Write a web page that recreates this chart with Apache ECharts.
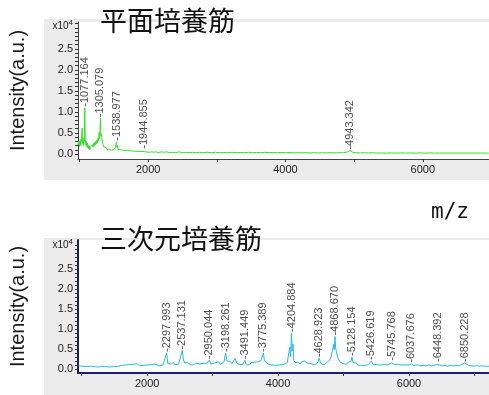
<!DOCTYPE html>
<html>
<head>
<meta charset="utf-8">
<script src="https://cdn.jsdelivr.net/npm/echarts@6/dist/echarts.min.js"></script>
<style>
  html, body { margin: 0; padding: 0; background: #fff; }
  #wrap { position: relative; width: 489px; height: 395px; overflow: hidden; }
  .panel { position: absolute; background: #ebebeb; }
  #chart { position: absolute; left: 0; top: 0; width: 489px; height: 395px; }
</style>
</head>
<body>
<div id="wrap">
  <div class="panel" style="left:44px;top:19px;width:445px;height:161px;"></div>
  <div class="panel" style="left:44px;top:238px;width:445px;height:157px;"></div>
  <div id="chart"></div>
</div>
<script>
// Panel titles and axis names
const titleFlat = '平面培養筋';
const title3D = '三次元培養筋';
const xName = 'm/z';
const yName = 'Intensity(a.u.)';

// Intensity axis ticks (x10^4)
const yLabelValues = [0, 0.5, 1.0, 1.5, 2.0, 2.5];
const xLabelValues = [2000, 4000, 6000];
const xTickValues = [1000, 2000, 3000, 4000, 5000, 6000, 7000];

// Flat-culture spectrum: m/z and intensity (x10^4)
const flatMz = [980,990,1000,1010,1018,1025,1032,1038,1044,1050,1056,1062,1068,1077.164,1084,1090,1097,1104,1111,1118,1126,1134,1142,1150,1158,1166,1174,1182,1190,1198,1206,1214,1222,1230,1238,1246,1254,1262,1270,1278,1286,1292,1298,1305.079,1312,1320,1328,1336,1344,1352,1360,1370,1380,1390,1400,1410,1420,1430,1440,1450,1460,1470,1480,1490,1500,1510,1520,1530,1538.977,1546,1554,1562,1572,1582,1595,1610,1625,1640,1655,1670,1690,1710,1730,1750,1775,1800,1825,1850,1875,1900,1925,1944.855,1965,1990,2020,2050,2080,2110,2150,2190,2230,2270,2310,2350,2400,2450,2500,2550,2600,2650,2700,2750,2800,2860,2920,2980,3040,3100,3160,3220,3280,3340,3400,3460,3520,3580,3640,3700,3760,3820,3880,3940,4000,4060,4120,4180,4240,4300,4360,4420,4480,4540,4600,4660,4720,4780,4840,4900,4943.342,4980,5030,5090,5150,5210,5270,5330,5400,5470,5540,5610,5680,5750,5820,5890,5960,6030,6100,6170,6240,6310,6380,6450,6520,6600,6680,6760,6840,6920,6960];
const flatInt = [0.22,0.30,0.18,0.35,0.20,0.28,0.45,0.62,0.25,0.32,0.20,0.38,0.30,1.10,0.35,0.22,0.30,0.18,0.26,0.15,0.22,0.12,0.19,0.10,0.16,0.12,0.20,0.14,0.22,0.16,0.25,0.18,0.28,0.22,0.30,0.24,0.33,0.26,0.38,0.30,0.52,0.36,0.58,0.85,0.42,0.48,0.34,0.30,0.22,0.26,0.16,0.20,0.12,0.15,0.10,0.13,0.09,0.12,0.08,0.11,0.09,0.12,0.08,0.10,0.12,0.09,0.14,0.18,0.29,0.15,0.20,0.11,0.13,0.08,0.10,0.07,0.09,0.06,0.08,0.06,0.09,0.06,0.08,0.05,0.07,0.05,0.06,0.04,0.06,0.05,0.06,0.10,0.05,0.06,0.04,0.05,0.04,0.05,0.03,0.05,0.04,0.05,0.03,0.04,0.03,0.05,0.03,0.04,0.03,0.04,0.03,0.04,0.03,0.04,0.03,0.04,0.03,0.035,0.03,0.04,0.03,0.035,0.03,0.04,0.03,0.035,0.03,0.04,0.03,0.035,0.03,0.035,0.03,0.035,0.025,0.03,0.025,0.03,0.025,0.03,0.025,0.03,0.025,0.03,0.025,0.03,0.03,0.045,0.08,0.04,0.03,0.025,0.03,0.025,0.03,0.02,0.025,0.02,0.025,0.02,0.025,0.02,0.025,0.02,0.025,0.02,0.025,0.02,0.022,0.02,0.022,0.02,0.022,0.02,0.022,0.02,0.022,0.02,0.02];
const flatPeaks = [1077.164, 1305.079, 1538.977, 1944.855, 4943.342];

// 3D-culture spectrum: m/z and intensity (x10^4)
const cultMz = [950,980,1010,1040,1070,1100,1130,1160,1190,1220,1250,1280,1310,1340,1370,1400,1430,1460,1490,1520,1550,1580,1610,1640,1670,1700,1730,1760,1790,1820,1850,1880,1910,1940,1970,2000,2030,2060,2090,2120,2150,2180,2210,2240,2270,2297.993,2315,2340,2370,2400,2420,2450,2480,2510,2537.131,2555,2575,2600,2625,2650,2680,2710,2740,2770,2800,2830,2860,2890,2920,2950.044,2975,3000,3030,3060,3090,3120,3150,3175,3198.261,3220,3245,3270,3295,3320,3345,3365,3390,3415,3440,3465,3491.449,3515,3540,3565,3590,3615,3640,3665,3690,3715,3740,3760,3775.389,3790,3810,3835,3860,3885,3910,3935,3960,3990,4020,4050,4080,4110,4140,4165,4180,4192,4204.884,4215,4228,4240,4260,4285,4310,4335,4360,4385,4410,4435,4460,4485,4510,4535,4560,4585,4610,4628.923,4645,4665,4690,4715,4740,4765,4790,4810,4830,4848,4858,4868.670,4880,4895,4910,4930,4950,4970,4995,5020,5045,5070,5095,5115,5128.154,5145,5170,5195,5220,5245,5270,5295,5320,5345,5370,5395,5426.619,5450,5475,5500,5530,5560,5590,5620,5650,5680,5710,5730,5745.768,5765,5790,5820,5850,5880,5910,5940,5970,6000,6037.676,6070,6100,6140,6180,6220,6260,6300,6340,6380,6420,6448.392,6475,6510,6550,6590,6630,6670,6710,6750,6790,6820,6850.228,6880,6910,6950,6990,7030,7070,7110,7150,7190,7222];
const cultInt = [0.08,0.09,0.07,0.08,0.06,0.08,0.07,0.09,0.06,0.07,0.05,0.07,0.06,0.08,0.06,0.07,0.05,0.07,0.06,0.08,0.06,0.07,0.09,0.07,0.10,0.08,0.11,0.08,0.12,0.09,0.13,0.08,0.11,0.09,0.12,0.10,0.08,0.11,0.09,0.12,0.10,0.08,0.11,0.09,0.13,0.40,0.14,0.10,0.12,0.17,0.11,0.09,0.12,0.16,0.46,0.22,0.15,0.12,0.16,0.11,0.14,0.10,0.15,0.11,0.13,0.10,0.14,0.12,0.15,0.22,0.12,0.10,0.15,0.11,0.18,0.12,0.14,0.18,0.40,0.20,0.16,0.19,0.13,0.17,0.27,0.15,0.18,0.11,0.15,0.12,0.22,0.11,0.14,0.10,0.16,0.12,0.17,0.13,0.18,0.15,0.21,0.25,0.40,0.22,0.17,0.13,0.11,0.14,0.10,0.12,0.09,0.12,0.10,0.14,0.11,0.13,0.16,0.12,0.55,0.30,0.90,0.45,0.62,0.22,0.16,0.13,0.17,0.12,0.18,0.14,0.20,0.15,0.19,0.14,0.17,0.12,0.15,0.12,0.18,0.27,0.17,0.12,0.15,0.11,0.16,0.14,0.22,0.30,0.45,0.62,0.48,0.81,0.52,0.40,0.30,0.22,0.17,0.20,0.13,0.16,0.12,0.17,0.14,0.20,0.30,0.16,0.12,0.15,0.10,0.13,0.09,0.12,0.09,0.13,0.10,0.12,0.20,0.11,0.09,0.11,0.08,0.10,0.08,0.11,0.13,0.10,0.12,0.15,0.18,0.12,0.09,0.11,0.08,0.10,0.08,0.10,0.08,0.10,0.13,0.09,0.08,0.10,0.08,0.09,0.08,0.10,0.08,0.09,0.11,0.15,0.10,0.08,0.09,0.07,0.09,0.08,0.09,0.08,0.10,0.12,0.15,0.11,0.09,0.08,0.07,0.08,0.07,0.08,0.07,0.07,0.07];
const cultPeaks = [2297.993, 2537.131, 2950.044, 3198.261, 3491.449, 3775.389, 4204.884, 4628.923, 4868.670, 5128.154, 5426.619, 5745.768, 6037.676, 6448.392, 6850.228];

function pairs(xs, ys) { return xs.map((x, i) => [x, ys[i]]); }
function peakPoints(peaks, xs, ys) {
  return peaks.map(p => [p, ys[xs.indexOf(p)]]);
}
function ticks01(max) {
  const out = [];
  for (let v = 0; v <= max + 1e-9; v += 0.1) out.push(Math.round(v * 10) / 10);
  return out;
}

const chart = echarts.init(document.getElementById('chart'), null, { renderer: 'canvas' });
const sansFont = 'Liberation Sans, Arial, sans-serif';
const cjkFont = 'Noto Sans CJK JP';

function makeX(gridIndex, min, max, lineColor, lineWidth) {
  return {
    type: 'value', gridIndex, min, max,
    axisLine: { onZero: false, lineStyle: { color: lineColor, width: lineWidth } },
    axisTick: { show: true, length: 3, customValues: xTickValues, lineStyle: { color: '#333' } },
    axisLabel: { customValues: xLabelValues, color: '#222', fontSize: 11, fontFamily: sansFont, margin: 5,
      formatter: v => String(v) },
    splitLine: { show: false }
  };
}
function makeY(gridIndex, min, max, unitVal, lineColor, lineWidth) {
  return {
    type: 'value', gridIndex, min, max,
    name: yName, nameLocation: 'middle', nameGap: 50,
    nameTextStyle: { fontSize: 20, color: '#1a1a1a', fontFamily: sansFont },
    axisLine: { onZero: false, lineStyle: { color: lineColor, width: lineWidth } },
    axisTick: { show: true, length: 3, customValues: ticks01(3.1), lineStyle: { color: '#333' } },
    axisLabel: {
      customValues: yLabelValues.concat([unitVal]),
      color: '#222', fontSize: 11, fontFamily: sansFont, margin: 5,
      formatter: v => v > 3 ? '{u|x10}{s|4}' : v.toFixed(1),
      rich: {
        u: { fontSize: 10, color: '#222', fontFamily: sansFont, verticalAlign: 'bottom', lineHeight: 12 },
        s: { fontSize: 8, color: '#222', fontFamily: sansFont, verticalAlign: 'top', lineHeight: 12, padding: [0, 0, 4, 0] }
      }
    },
    splitLine: { show: false }
  };
}
function peakLabels(xi, yi, data) {
  return {
    type: 'scatter', xAxisIndex: xi, yAxisIndex: yi, data,
    symbolSize: 0, silent: true,
    label: {
      show: true, position: 'top', distance: 1, rotate: 90,
      align: 'left', verticalAlign: 'middle',
      formatter: p => '-' + p.value[0].toFixed(3),
      color: '#222', fontSize: 11, fontFamily: sansFont
    }
  };
}

chart.setOption({
  animation: false,
  backgroundColor: 'transparent',
  title: [
    { text: titleFlat, left: 100, top: 7, padding: 0, textStyle: { fontSize: 27, fontWeight: 'normal', color: '#111', fontFamily: cjkFont } },
    { text: title3D, left: 100, top: 225, padding: 0, textStyle: { fontSize: 27, fontWeight: 'normal', color: '#111', fontFamily: cjkFont } },
    { text: xName, left: 431, top: 202, padding: 0, textStyle: { fontSize: 21, fontWeight: 'normal', color: '#111', fontFamily: 'DejaVu Sans Mono' } }
  ],
  grid: [
    { left: 73, right: 0, top: 22, height: 137, show: true, backgroundColor: '#fff', borderWidth: 0 },
    { left: 73, right: 0, top: 240, height: 133, show: true, backgroundColor: '#fff', borderWidth: 0 }
  ],
  xAxis: [
    makeX(0, 978, 6964, '#444', 1),
    makeX(1, 944, 7222, '#1c1c78', 2)
  ],
  yAxis: [
    makeY(0, -0.12, 3.14, 3.07, '#444', 1),
    makeY(1, -0.1, 3.22, 3.12, '#1c1c78', 2)
  ],
  series: [
    { type: 'line', xAxisIndex: 0, yAxisIndex: 0, data: pairs(flatMz, flatInt), showSymbol: false,
      lineStyle: { color: '#33e02a', width: 1 }, silent: true },
    peakLabels(0, 0, peakPoints(flatPeaks, flatMz, flatInt)),
    { type: 'line', xAxisIndex: 1, yAxisIndex: 1, data: pairs(cultMz, cultInt), showSymbol: false,
      lineStyle: { color: '#2ab4e8', width: 1 }, silent: true },
    peakLabels(1, 1, peakPoints(cultPeaks, cultMz, cultInt))
  ]
});
</script>
</body>
</html>
